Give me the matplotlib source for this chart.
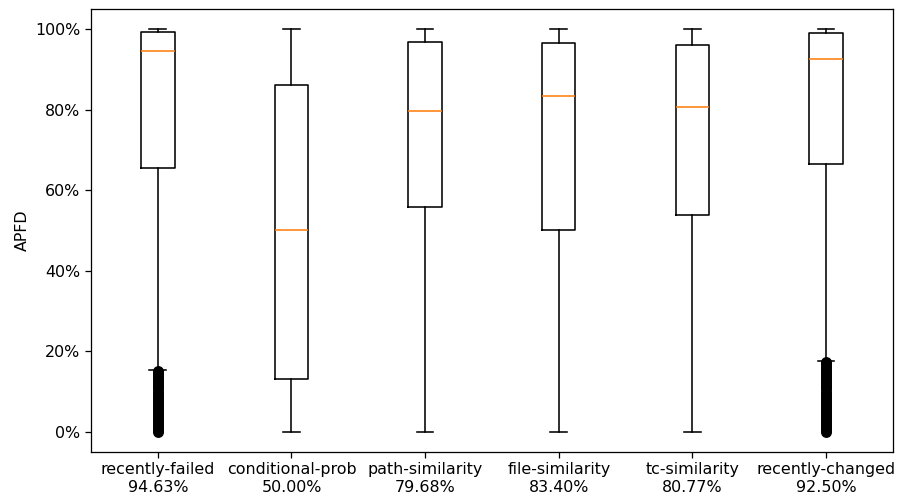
import matplotlib
matplotlib.use("Agg")
import matplotlib.pyplot as plt
from matplotlib.ticker import PercentFormatter

categories = ["recently-failed", "conditional-prob", "path-similarity",
              "file-similarity", "tc-similarity", "recently-changed"]
medians = [0.9463, 0.5000, 0.7968, 0.8340, 0.8077, 0.9250]
q1 = [0.656, 0.132, 0.558, 0.501, 0.538, 0.666]
q3 = [0.993, 0.862, 0.968, 0.965, 0.960, 0.990]
whislo = [0.153, 0.0, 0.0, 0.0, 0.0, 0.177]
whishi = [1.0, 1.0, 1.0, 1.0, 1.0, 1.0]
fliers_failed = [0.0, 0.005, 0.01, 0.015, 0.02, 0.025, 0.03, 0.035, 0.04, 0.045,
                 0.05, 0.055, 0.06, 0.065, 0.07, 0.075, 0.08, 0.085, 0.09, 0.095,
                 0.10, 0.105, 0.11, 0.115, 0.12, 0.125, 0.13, 0.135, 0.14, 0.145,
                 0.15]
fliers_changed = [0.0, 0.005, 0.01, 0.015, 0.02, 0.025, 0.03, 0.035, 0.04, 0.045,
                  0.05, 0.055, 0.06, 0.065, 0.07, 0.075, 0.08, 0.085, 0.09, 0.095,
                  0.10, 0.105, 0.11, 0.115, 0.12, 0.125, 0.13, 0.135, 0.14, 0.145,
                  0.15, 0.155, 0.16, 0.165, 0.17, 0.174]
fliers = [fliers_failed, [], [], [], [], fliers_changed]

s = 1.14
plt.rcParams.update({
    "font.size": 10 * s,
    "axes.linewidth": 0.8 * s,
    "xtick.major.size": 3.5 * s,
    "ytick.major.size": 3.5 * s,
    "xtick.major.width": 0.8 * s,
    "ytick.major.width": 0.8 * s,
})

stats = []
for i, c in enumerate(categories):
    stats.append(dict(med=medians[i], q1=q1[i], q3=q3[i], whislo=whislo[i],
                      whishi=whishi[i], fliers=fliers[i], label=c))

fig, ax = plt.subplots(figsize=(9.01, 5.01), dpi=100)
fig.subplots_adjust(left=0.101, right=0.991, top=0.982, bottom=0.098)
lw = 1.0 * s
ax.bxp(stats, widths=0.25,
       boxprops=dict(linewidth=lw), whiskerprops=dict(linewidth=lw),
       capprops=dict(linewidth=lw), medianprops=dict(linewidth=lw, color='#ff7f0e'),
       flierprops=dict(marker='o', markerfacecolor='black', markeredgecolor='black',
                       markersize=6 * s))
ax.set_xticks(range(1, 7))
ax.set_xticklabels([f"{c}\n{m*100:.2f}%" for c, m in zip(categories, medians)])
ax.yaxis.set_major_formatter(PercentFormatter(1.0, decimals=0))
ax.set_yticks([0, 0.2, 0.4, 0.6, 0.8, 1.0])
ax.set_ylabel("APFD")
fig.savefig("out.png", dpi=100)
